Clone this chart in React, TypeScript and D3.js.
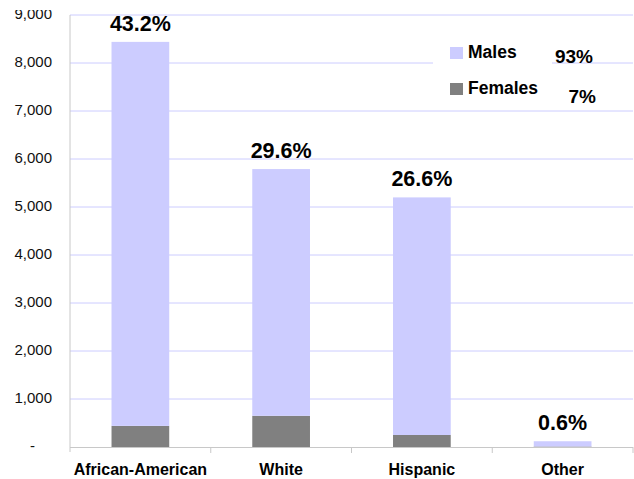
import React, { useEffect, useRef } from "react";
import * as d3 from "d3";

// race categories, counts per sex, share of total
const categories = ["African-American", "White", "Hispanic", "Other"];
const males = [8000, 5140, 4950, 110];
const females = [440, 650, 250, 10];
const shareLabels = ["43.2%", "29.6%", "26.6%", "0.6%"];
const legendNames = ["Males", "Females"];
const legendShares = ["93%", "7%"];
const yTicks = [0, 1000, 2000, 3000, 4000, 5000, 6000, 7000, 8000, 9000];

const W = 634;
const H = 479;
const FONT = "'Liberation Sans', Arial, sans-serif";
const MALE = "#ccccff";
const FEMALE = "#808080";

export default function App() {
  const ref = useRef<SVGSVGElement | null>(null);

  useEffect(() => {
    const svg = d3.select(ref.current);
    svg.selectAll("*").remove();

    const left = 70;
    const right = 633;
    const top = 15;
    const bottom = 447;

    const x = d3.scaleBand<string>().domain(categories).range([left, right]).padding(0);
    const y = d3.scaleLinear().domain([0, 9000]).range([bottom, top]);
    const barW = x.bandwidth() * 0.41;

    // gridlines
    svg.append("g")
      .selectAll("line")
      .data(yTicks.filter(d => d > 0))
      .enter()
      .append("line")
      .attr("x1", left)
      .attr("x2", right)
      .attr("y1", d => y(d))
      .attr("y2", d => y(d))
      .attr("stroke", MALE)
      .attr("stroke-width", 1);

    // legend background hides the grid under it
    svg.append("rect")
      .attr("x", 433)
      .attr("y", 30)
      .attr("width", 119)
      .attr("height", 75)
      .attr("fill", "#fff");

    // y labels (top one is cut off by the frame)
    svg.append("clipPath").attr("id", "yclip")
      .append("rect").attr("x", 0).attr("y", 10).attr("width", left).attr("height", H);
    svg.append("g")
      .attr("clip-path", "url(#yclip)")
      .selectAll("text")
      .data(yTicks)
      .enter()
      .append("text")
      .attr("x", d => (d === 0 ? 35 : 52))
      .attr("y", d => y(d) - 1)
      .attr("dy", "0.35em")
      .attr("text-anchor", "end")
      .attr("font-family", FONT)
      .attr("font-size", 15)
      .attr("fill", "#111")
      .text(d => (d === 0 ? "-" : d3.format(",")(d)));

    // stacked bars
    const bars = svg.append("g");
    categories.forEach((c, i) => {
      const cx = (x(c) as number) + x.bandwidth() / 2;
      bars.append("rect")
        .attr("x", cx - barW / 2)
        .attr("y", y(females[i]))
        .attr("width", barW)
        .attr("height", bottom - y(females[i]))
        .attr("fill", FEMALE);
      bars.append("rect")
        .attr("x", cx - barW / 2)
        .attr("y", y(females[i] + males[i]))
        .attr("width", barW)
        .attr("height", y(females[i]) - y(females[i] + males[i]))
        .attr("fill", MALE);
      bars.append("text")
        .attr("x", cx)
        .attr("y", y(females[i] + males[i]) - 11)
        .attr("text-anchor", "middle")
        .attr("font-family", FONT)
        .attr("font-weight", "bold")
        .attr("font-size", 21.5)
        .attr("fill", "#000")
        .text(shareLabels[i]);
    });

    // axes
    const axis = svg.append("g").attr("stroke", "#c8c8c8").attr("stroke-width", 1);
    axis.append("line").attr("x1", left).attr("x2", left).attr("y1", top).attr("y2", bottom + 5);
    axis.append("line").attr("x1", left).attr("x2", right).attr("y1", bottom + 0.5).attr("y2", bottom + 0.5);
    categories.forEach(c => {
      const bx = (x(c) as number) + x.bandwidth();
      axis.append("line").attr("x1", bx).attr("x2", bx).attr("y1", bottom).attr("y2", bottom + 6);
    });

    svg.append("g")
      .selectAll("text")
      .data(categories)
      .enter()
      .append("text")
      .attr("x", d => (x(d) as number) + x.bandwidth() / 2)
      .attr("y", 475)
      .attr("text-anchor", "middle")
      .attr("font-family", FONT)
      .attr("font-weight", "bold")
      .attr("font-size", 16)
      .attr("fill", "#000")
      .text(d => d);

    // legend
    const lg = svg.append("g");
    legendNames.forEach((n, i) => {
      const ly = 47 + i * 36;
      lg.append("rect").attr("x", 450).attr("y", ly).attr("width", 13).attr("height", 12)
        .attr("fill", i === 0 ? MALE : FEMALE);
      lg.append("text").attr("x", 468).attr("y", ly + 11)
        .attr("font-family", FONT).attr("font-weight", "bold").attr("font-size", 17.5)
        .text(n);
    });
    lg.append("text").attr("x", 593).attr("y", 63).attr("text-anchor", "end")
      .attr("font-family", FONT).attr("font-weight", "bold").attr("font-size", 19)
      .text(legendShares[0]);
    lg.append("text").attr("x", 596).attr("y", 103).attr("text-anchor", "end")
      .attr("font-family", FONT).attr("font-weight", "bold").attr("font-size", 19)
      .text(legendShares[1]);
  }, []);

  return (
    <svg
      ref={ref}
      width={W}
      height={H}
      style={{ position: "absolute", left: 0, top: 0, background: "#fff" }}
    />
  );
}
